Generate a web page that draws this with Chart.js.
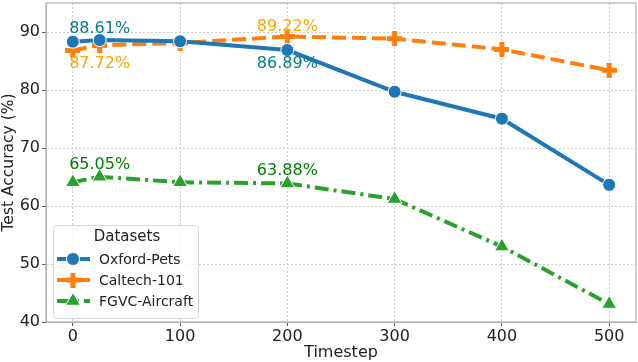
<!DOCTYPE html>
<html><head><meta charset="utf-8">
<script src="https://cdn.jsdelivr.net/npm/chart.js@4/dist/chart.umd.min.js"></script>
<style>html,body{margin:0;padding:0;background:#fff}#wrap{width:638px;height:362px}</style>
</head><body><div id="wrap"><canvas id="c" width="638" height="362"></canvas></div>
<script>
const timesteps = [0, 25, 100, 200, 300, 400, 500];
const oxfordPets = [88.33, 88.61, 88.4, 86.89, 79.7, 75.05, 63.65];
const caltech101 = [86.8, 87.72, 88.1, 89.22, 88.85, 87.0, 83.4];
const fgvcAircraft = [64.1, 65.05, 64.1, 63.88, 61.2, 53.0, 43.1];
const seriesNames = ['Oxford-Pets', 'Caltech-101', 'FGVC-Aircraft'];
const xTicks = [0, 100, 200, 300, 400, 500];
const yTicks = [40, 50, 60, 70, 80, 90];
// annotations: [seriesIndex, timestep, text]
const annotations = [
  [0, 25, '88.61%'],
  [1, 25, '87.72%'],
  [1, 200, '89.22%'],
  [0, 200, '86.89%'],
  [2, 25, '65.05%'],
  [2, 200, '63.88%']
];
// baseline offsets (px) of the annotation texts from their points
const annotationOffsets = [-7, 23, -6, 18, -8, -8];
const FONT = "'DejaVu Sans', sans-serif";
const lineColors = ['#1f77b4', '#ff7f0e', '#2ca02c'];
const labelColors = ['#008080', '#FFA500', '#008000'];
const dashes = [[], [14, 6], [14, 5, 3, 5]];
const markers = ['circle', 'plus', 'triangle'];
const allValues = [oxfordPets, caltech101, fgvcAircraft];

function crossPlus(size, color){
  const c = document.createElement('canvas'); c.width = c.height = size;
  const g = c.getContext('2d');
  g.fillStyle = color;
  const t = Math.round(size*0.32), m = (size - t)/2;
  g.fillRect(m, 0, t, size); g.fillRect(0, m, size, t);
  return c;
}
const plusImg = crossPlus(15, '#ff7f0e');

const datasets = allValues.map((vals, i) => ({
  label: seriesNames[i],
  data: timesteps.map((t, k) => ({x: t, y: vals[k]})),
  borderColor: lineColors[i],
  backgroundColor: lineColors[i],
  borderWidth: 4,
  borderDash: dashes[i],
  pointStyle: i === 1 ? plusImg : markers[i],
  pointRadius: i === 2 ? 8.5 : 6.5,
  pointBorderColor: '#ffffff',
  pointBorderWidth: i === 1 ? 0 : 1,
  pointBackgroundColor: lineColors[i],
  tension: 0,
  fill: false
}));

const framePlugin = {
  id: 'frame',
  afterDraw(chart){
    const {ctx, chartArea: a} = chart;
    ctx.save();
    ctx.strokeStyle = '#b0b0b0'; ctx.lineWidth = 1.2;
    ctx.strokeRect(a.left, a.top, a.right - a.left, a.bottom - a.top);
    ctx.restore();
  }
};
const labelPlugin = {
  id: 'labels',
  afterDatasetsDraw(chart){
    const {ctx, scales} = chart;
    ctx.save();
    ctx.font = '16px ' + FONT;
    ctx.textAlign = 'center';
    ctx.textBaseline = 'alphabetic';
    annotations.forEach(([si, t, txt], n) => {
      const k = timesteps.indexOf(t);
      const x = scales.x.getPixelForValue(t);
      const y = scales.y.getPixelForValue(allValues[si][k]);
      ctx.fillStyle = labelColors[si];
      ctx.fillText(txt, x, y + annotationOffsets[n]);
    });
    ctx.restore();
  }
};
const legendPlugin = {
  id: 'customLegend',
  afterDraw(chart){
    const {ctx} = chart;
    const bx = 53, by = 225, bw = 145, bh = 93;
    ctx.save();
    ctx.fillStyle = 'rgba(255,255,255,0.8)';
    ctx.strokeStyle = '#d8d8d8'; ctx.lineWidth = 1;
    ctx.beginPath();
    ctx.roundRect(bx + 0.5, by + 0.5, bw, bh, 3);
    ctx.fill(); ctx.stroke();
    ctx.fillStyle = '#222';
    ctx.font = '15px ' + FONT;
    ctx.textAlign = 'center'; ctx.textBaseline = 'middle';
    ctx.fillText('Datasets', 127, 237);
    ctx.font = '14px ' + FONT;
    ctx.textAlign = 'left';
    chart.data.datasets.forEach((ds, i) => {
      const y = 259 + i * 21;
      ctx.strokeStyle = ds.borderColor; ctx.lineWidth = 4;
      ctx.setLineDash(ds.borderDash);
      ctx.beginPath(); ctx.moveTo(57, y); ctx.lineTo(90, y); ctx.stroke();
      ctx.setLineDash([]);
      ctx.fillStyle = ds.borderColor;
      ctx.strokeStyle = '#fff'; ctx.lineWidth = ds.pointBorderWidth;
      Chart.helpers.drawPoint(ctx, {pointStyle: ds.pointStyle, radius: ds.pointRadius, borderWidth: ds.pointBorderWidth}, 73, y);
      ctx.fillStyle = '#222';
      ctx.fillText(ds.label, 99, y + 1);
    });
    ctx.restore();
  }
};

new Chart(document.getElementById('c'), {
  type: 'line',
  data: {datasets},
  options: {
    responsive: false,
    animation: false,
    layout: {autoPadding: false, padding: {left: 0, right: 2, top: 3, bottom: 0}},
    plugins: {legend: {display: false}, tooltip: {enabled: false}},
    scales: {
      x: {
        type: 'linear', min: -25, max: 525,
        afterBuildTicks: s => { s.ticks = xTicks.map(v => ({value: v})); },
        afterFit: s => { s.height = 40; s.paddingLeft = 0; s.paddingRight = 0; },
        grid: {color: '#cccccc', tickLength: 4, tickColor: '#555', drawTicks: true},
        border: {display: true, color: '#b0b0b0', dash: [2, 2]},
        ticks: {font: {family: FONT, size: 16}, color: '#222', padding: 1, maxRotation: 0},
        title: {display: true, text: 'Timestep', font: {family: FONT, size: 16}, color: '#222', padding: {top: 0, bottom: 0}}
      },
      y: {
        type: 'linear', min: 40, max: 95,
        afterBuildTicks: s => { s.ticks = yTicks.map(v => ({value: v})); },
        afterFit: s => { s.width = 46; s.paddingTop = 0; s.paddingBottom = 0; },
        grid: {color: '#cccccc', tickLength: 4, tickColor: '#555'},
        border: {display: true, color: '#b0b0b0', dash: [2, 2]},
        ticks: {font: {family: FONT, size: 16}, color: '#222', padding: 2},
        title: {display: true, text: 'Test Accuracy (%)', font: {family: FONT, size: 15.5}, color: '#222', padding: {top: 0, bottom: 2}}
      }
    }
  },
  plugins: [framePlugin, labelPlugin, legendPlugin]
});
</script></body></html>
